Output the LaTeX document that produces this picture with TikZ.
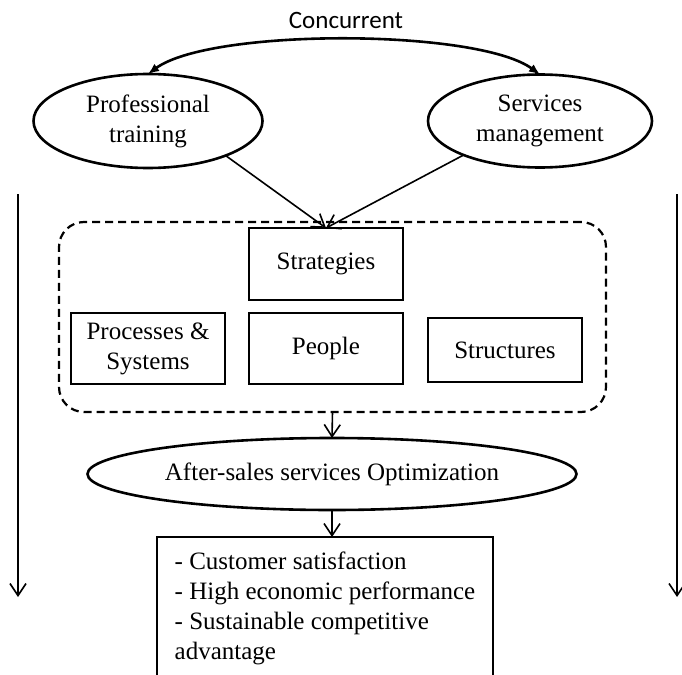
\documentclass[tikz,border=0pt]{standalone}
\usepackage{fontspec}
\setmainfont{Liberation Serif}
\newfontfamily\labelfont{Carlito}
\usetikzlibrary{arrows.meta,shapes.geometric}

\begin{document}
\begin{tikzpicture}[x=1pt,y=-1pt,
  every node/.style={font=\fontsize{25}{30}\selectfont, inner sep=0pt, outer sep=0pt},
  oval/.style={ellipse, draw, line width=2.6pt, align=center},
  block/.style={rectangle, draw, line width=2pt, align=center, minimum width=154pt},
  group/.style={rectangle, draw, dash pattern=on 8pt off 5pt, line width=2.2pt, rounded corners=25pt},
  link/.style={line width=1.6pt, -{Straight Barb[length=12pt,width=16pt,line width=1.6pt]}},
  concur/.style={line width=2.6pt, {Latex[length=11pt,width=9pt]}-{Latex[length=11pt,width=9pt]}},
]
\clip (0,0) rectangle (682,674);

% top label and the two driving factors
\node[font=\labelfont\fontsize{25}{30}\selectfont] (conc) at (346,20) {Concurrent};
\node[oval, minimum width=229pt, minimum height=94pt] (pt) at (148,121) {Professional\\training};
\node[oval, minimum width=224pt, minimum height=93pt] (st) at (540,121) {Services\\management};

% organisational elements inside the dashed frame
\node[group, minimum width=547pt, minimum height=190pt] (grp) at (332.5,317) {};
\node[block, minimum height=72pt] (strat) at (326,264) {Strategies};
\node[block, minimum height=71pt] (proc) at (148,348.5) {Processes \&\\Systems};
\node[block, minimum height=71pt] (people) at (326,348.5) {People};
\node[block, minimum height=64pt] (struc) at (505,350) {Structures};

% optimisation and its results (the box runs past the lower edge)
\node[oval, minimum width=489pt, minimum height=72pt] (opt) at (332,474) {After-sales services Optimization};
\node[rectangle, draw, line width=2pt, anchor=north west, minimum width=336pt,
      minimum height=142pt, align=left] (res) at (157,537)
  {- Customer satisfaction\\- High economic performance\\- Sustainable competitive\\advantage};

% side arrows
\coordinate (l0) at (18,194);
\coordinate (l1) at (18,597);
\coordinate (r0) at (677,194);
\coordinate (r1) at (677,597);

% connectors
\draw[concur] (pt.north) .. controls +(63,-46) and +(-63,-46) .. (st.north);
\draw[link] (pt.-24) -- (strat.north);
\draw[link] (st.204) -- (strat.north);
\draw[link] (grp.south) -- (opt.north);
\draw[link] (opt.south) -- (opt.south |- res.north);
\draw[link] (l0) -- (l1);
\draw[link] (r0) -- (r1);
\end{tikzpicture}
\end{document}
